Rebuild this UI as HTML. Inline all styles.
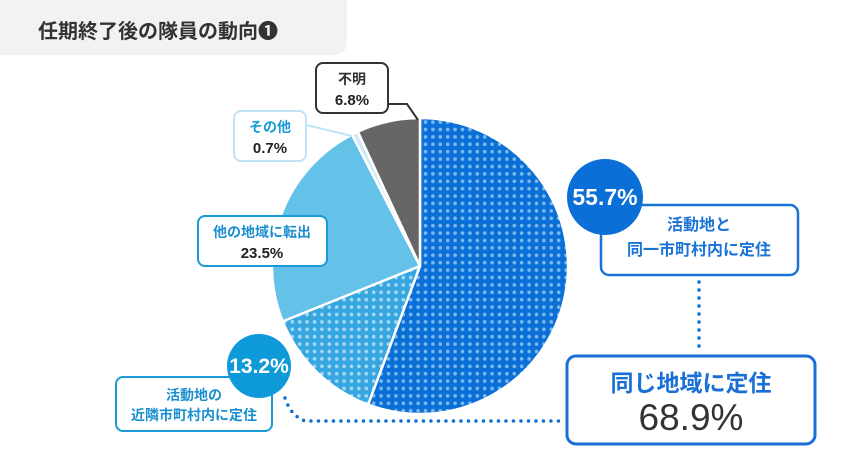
<!DOCTYPE html>
<html><head><meta charset="utf-8"><style>
body{margin:0;background:#fff;}
svg{display:block;font-family:"Liberation Sans","Noto Sans CJK JP",sans-serif;}
</style></head><body>
<svg width="842" height="474" viewBox="0 0 842 474" xmlns="http://www.w3.org/2000/svg">
<defs>
<pattern id="p1" x="0" y="0" width="7.4" height="7.4" patternUnits="userSpaceOnUse">
<rect width="7.4" height="7.4" fill="#0a6fd6"/><circle cx="3.7" cy="3.7" r="1.8" fill="#7db8ee"/></pattern>
<pattern id="p2" x="0" y="0" width="7.4" height="7.4" patternUnits="userSpaceOnUse">
<rect width="7.4" height="7.4" fill="#35a6e0"/><circle cx="3.7" cy="3.7" r="1.8" fill="#a8d9f3"/></pattern>
</defs>
<path d="M0 0H347V43A12 12 0 0 1 335 55H0Z" fill="#f2f2f2"/>
<text x="38" y="38" font-size="20" font-weight="bold" fill="#333">任期終了後の隊員の動向❶</text>

<g stroke="#fff" stroke-width="2.5" stroke-linejoin="round">
<path d="M420 266L420 118A148 148 0 1 1 368.1 404.6Z" fill="url(#p1)"/>
<path d="M420 266L368.1 404.6A148 148 0 0 1 282.7 321.4Z" fill="url(#p2)"/>
<path d="M420 266L282.7 321.4A148 148 0 0 1 352 134.6Z" fill="#64c1e7"/>
<path d="M420 266L352 134.6A148 148 0 0 1 357.8 131.7Z" fill="#cdeaf8"/>
<path d="M420 266L357.8 131.7A148 148 0 0 1 420 118Z" fill="#666"/>
</g>

<!-- 不明 -->
<polyline points="388,104 407,104 418,120" fill="none" stroke="#333" stroke-width="2"/>
<rect x="316" y="63" width="72" height="50" rx="7" fill="#fff" stroke="#333" stroke-width="2"/>
<text x="352" y="84" font-size="14" font-weight="bold" fill="#333" text-anchor="middle">不明</text>
<text x="352" y="105" font-size="15" font-weight="bold" fill="#222" text-anchor="middle">6.8%</text>

<!-- その他 -->
<line x1="306" y1="125" x2="352" y2="136" stroke="#bde3f5" stroke-width="2"/>
<rect x="234" y="111" width="72" height="50" rx="7" fill="#fff" stroke="#bde3f5" stroke-width="2"/>
<text x="270" y="132" font-size="14" font-weight="bold" fill="#1a9ad6" text-anchor="middle">その他</text>
<text x="270" y="153" font-size="15" font-weight="bold" fill="#222" text-anchor="middle">0.7%</text>

<!-- 他の地域に転出 -->
<rect x="198" y="216" width="129" height="50" rx="7" fill="#fff" stroke="#1a9ad6" stroke-width="2"/>
<text x="262" y="237" font-size="14" font-weight="bold" fill="#1a8fd0" text-anchor="middle">他の地域に転出</text>
<text x="262" y="258" font-size="15" font-weight="bold" fill="#222" text-anchor="middle">23.5%</text>

<!-- 13.2 -->
<path d="M285 398 Q291 416 305 421 L565 421" fill="none" stroke="#0a6fd6" stroke-width="3.5" stroke-linecap="round" stroke-dasharray="0 7.5"/>
<rect x="116" y="377" width="156" height="54" rx="7" fill="#fff" stroke="#1a9ad6" stroke-width="2"/>
<circle cx="259" cy="366" r="32" fill="#0e9ad8"/>
<text x="259" y="373" font-size="21" font-weight="bold" fill="#fff" text-anchor="middle">13.2%</text>
<text x="194" y="400" font-size="14" font-weight="bold" fill="#1a8fd0" text-anchor="middle">活動地の</text>
<text x="194" y="420" font-size="14" font-weight="bold" fill="#1a8fd0" text-anchor="middle">近隣市町村内に定住</text>

<!-- 55.7 -->
<line x1="699" y1="282" x2="699" y2="348" stroke="#0a6fd6" stroke-width="3.5" stroke-linecap="round" stroke-dasharray="0 8"/>
<rect x="601" y="205" width="197" height="70" rx="8" fill="#fff" stroke="#1a73d6" stroke-width="2.5"/>
<circle cx="605" cy="197" r="38" fill="#0a6fd6"/>
<text x="605" y="205" font-size="23" font-weight="bold" fill="#fff" text-anchor="middle">55.7%</text>
<text x="699" y="230" font-size="16" font-weight="bold" fill="#1a73d6" text-anchor="middle">活動地と</text>
<text x="699" y="255" font-size="16" font-weight="bold" fill="#1a73d6" text-anchor="middle">同一市町村内に定住</text>

<!-- big box -->
<rect x="567" y="356" width="248" height="88" rx="9" fill="#fff" stroke="#1a6fd6" stroke-width="3"/>
<text x="691" y="391" font-size="23" font-weight="bold" fill="#1a6fd6" text-anchor="middle">同じ地域に定住</text>
<text x="691" y="430" font-size="37" fill="#333" text-anchor="middle">68.9%</text>
</svg>
</body></html>
